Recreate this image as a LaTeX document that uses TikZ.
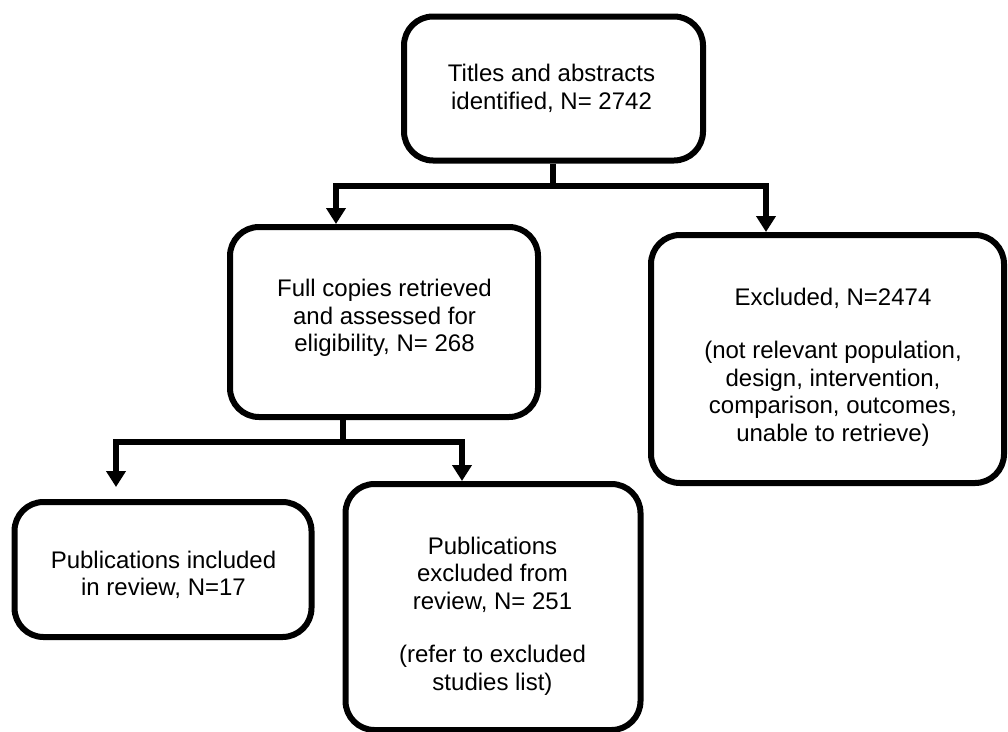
\documentclass[tikz,border=0pt]{standalone}
\usepackage{fontspec}
\setmainfont{Liberation Sans}
\usetikzlibrary{arrows.meta}
\begin{document}
\begin{tikzpicture}[x=1pt,y=-1pt,
  box/.style={draw, line width=6pt, rounded corners=29pt, inner sep=0pt},
  txt/.style={align=center, font=\fontsize{24}{27.5}\selectfont, inner sep=0pt},
  conn/.style={line width=6pt},
  arr/.style={conn, -{Triangle[width=19pt,length=16pt]}}]
\useasboundingbox (0,0) rectangle (1008,731);
% boxes
\node[box, minimum width=299pt, minimum height=144pt] (top) at (553.5,88.5) {};
\node[box, minimum width=308pt, minimum height=190pt] (mid) at (384,322) {};
\node[box, minimum width=353pt, minimum height=248pt] (right) at (827.5,359) {};
\node[box, minimum width=297pt, minimum height=135pt] (bl) at (163,569.5) {};
\node[box, minimum width=295pt, minimum height=246pt] (bm) at (493,607) {};
% texts
\node[txt] (topT) at (551.5,88.5) {Titles and abstracts\\identified, N= 2742};
\node[txt] (midT) at (384.5,318) {Full copies retrieved\\and assessed for\\eligibility, N= 268};
\node[txt] (rightT) at (833,367) {Excluded, N=2474\\[26pt](not relevant population,\\design, intervention,\\comparison, outcomes,\\unable to retrieve)};
\node[txt] (blT) at (163.5,575) {Publications included\\in review, N=17};
\node[txt] (bmT) at (492.5,616) {Publications\\excluded from\\review, N= 251\\[26pt](refer to excluded\\studies list)};
% first junction
\coordinate (j1) at (553,186);
\coordinate (l1) at (336,186);
\coordinate (r1) at (766,186);
\draw[conn] (top.south -| j1) -- (j1);
\draw[arr] (j1) -- (l1) -- (l1 |- mid.north);
\draw[arr] (j1) -- (r1) -- (r1 |- right.north);
% second junction
\coordinate (j2) at (343,442);
\coordinate (l2) at (116,442);
\coordinate (r2) at (462,442);
\draw[conn] (mid.south -| j2) -- (j2);
\draw[arr, shorten >=12pt] (j2) -- (l2) -- (l2 |- bl.north);
\draw[arr] (j2) -- (r2) -- (r2 |- bm.north);
\end{tikzpicture}
\end{document}
